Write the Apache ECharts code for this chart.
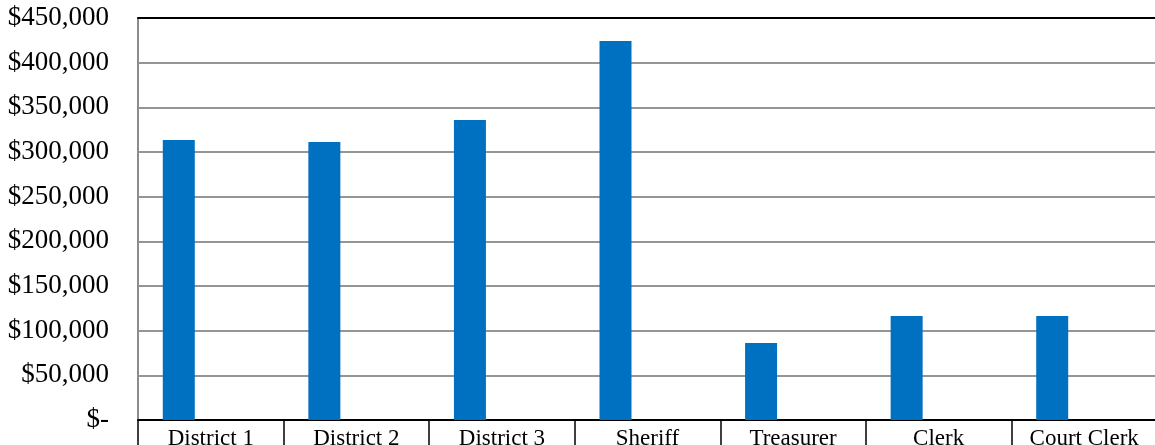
<!DOCTYPE html>
<html>
<head>
<meta charset="utf-8">
<script src="https://cdn.jsdelivr.net/npm/echarts@6/dist/echarts.min.js"></script>
<style>
  html, body { margin: 0; padding: 0; background: #ffffff; }
  #chart { width: 1155px; height: 445px; }
</style>
</head>
<body>
<div id="chart"></div>
<script>
// Offices along the category axis
const offices = ['District 1', 'District 2', 'District 3', 'Sheriff', 'Treasurer', 'Clerk', 'Court Clerk'];

// Budget per office (first series); the other two series slots are empty
const budget = [313500, 311200, 335800, 424300, 86200, 116400, 116400];
const secondSeries = [null, null, null, null, null, null, null];
const thirdSeries = [null, null, null, null, null, null, null];

// Value axis range
const yMin = 0;
const yMax = 450000;
const yStep = 50000;

const serif = "'Liberation Serif', 'Times New Roman', serif";

function money(v) {
  if (v === 0) return '$-';
  return '$' + v.toLocaleString('en-US');
}

const chart = echarts.init(document.getElementById('chart'), null, { renderer: 'canvas' });

chart.setOption({
  animation: false,
  backgroundColor: '#ffffff',
  grid: {
    left: 138, top: 18, bottom: 25, width: 1019,
    containLabel: false,
    outerBoundsMode: 'none'
  },
  xAxis: [
    {
      type: 'category',
      data: offices,
      position: 'bottom',
      axisLine: { show: true, lineStyle: { color: '#000000', width: 2 } },
      axisTick: { show: true, length: 30, lineStyle: { color: '#000000', width: 1.5 } },
      axisLabel: {
        interval: 0,
        margin: 7,
        color: '#000000',
        fontFamily: serif,
        fontSize: 23
      },
      splitLine: { show: false }
    },
    {
      type: 'category',
      data: offices,
      position: 'top',
      axisLine: { show: true, lineStyle: { color: '#000000', width: 2 } },
      axisTick: { show: false },
      axisLabel: { show: false },
      splitLine: { show: false }
    }
  ],
  yAxis: {
    type: 'value',
    min: yMin,
    max: yMax,
    interval: yStep,
    axisLine: { show: true, lineStyle: { color: '#8c8c8c', width: 2 } },
    axisTick: { show: false },
    axisLabel: {
      margin: 29,
      color: '#000000',
      fontFamily: serif,
      fontSize: 27,
      formatter: money
    },
    splitLine: { show: true, lineStyle: { color: '#959595', width: 2 } }
  },
  series: [
    {
      name: 'Series 1',
      type: 'bar',
      data: budget,
      barWidth: 32,
      barGap: '0%',
      itemStyle: { color: '#0070C0' }
    },
    {
      name: 'Series 2',
      type: 'bar',
      data: secondSeries,
      barWidth: 32,
      barGap: '0%',
      itemStyle: { color: '#ED7D31' }
    },
    {
      name: 'Series 3',
      type: 'bar',
      data: thirdSeries,
      barWidth: 32,
      barGap: '0%',
      itemStyle: { color: '#A5A5A5' }
    }
  ]
});
</script>
</body>
</html>
